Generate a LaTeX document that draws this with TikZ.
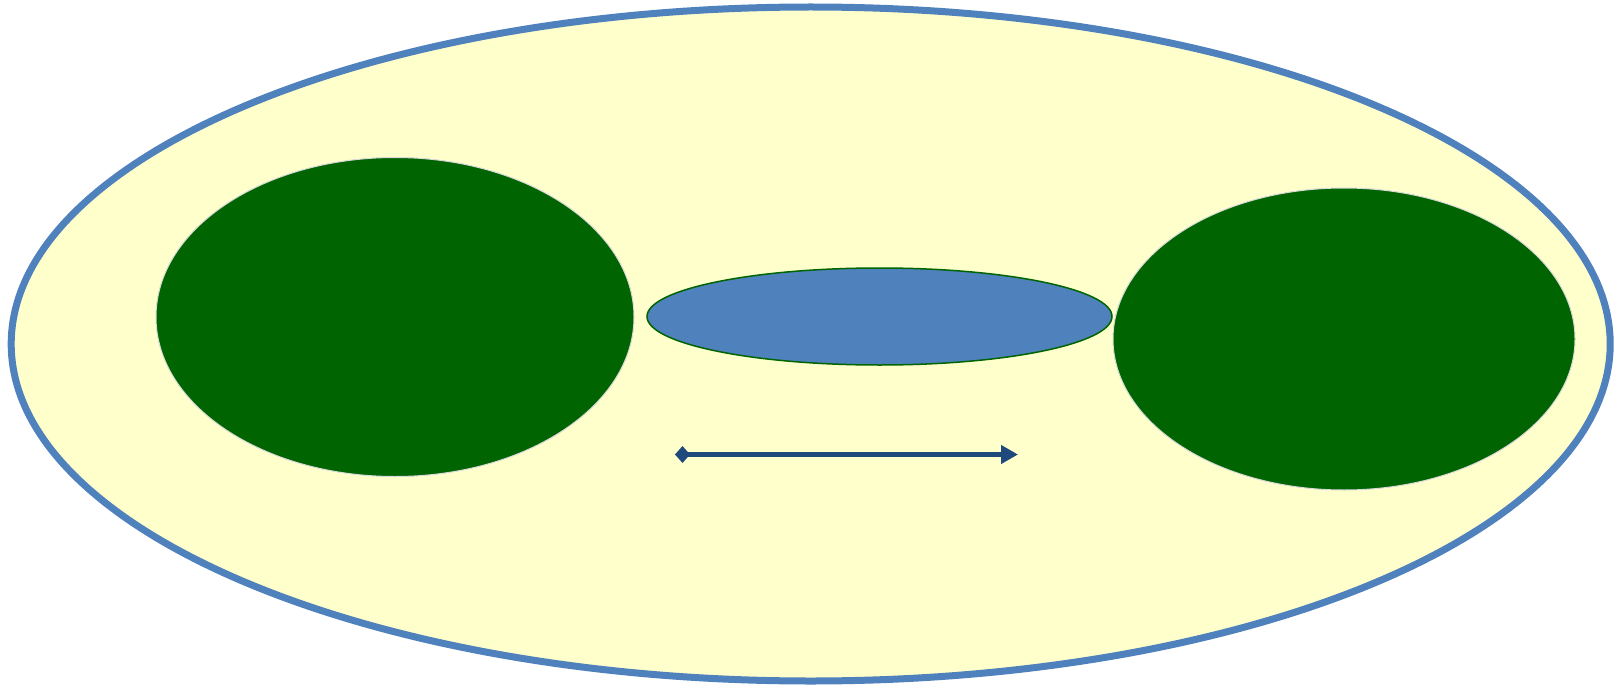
\documentclass[tikz,border=0pt]{standalone}
\usepackage{tikz}
\usetikzlibrary{arrows.meta, positioning, shapes.geometric}

\definecolor{cellfill}{HTML}{FFFFCC}
\definecolor{cellline}{HTML}{4F81BD}
\definecolor{blobgreen}{HTML}{006400}
\definecolor{arrowblue}{HTML}{1F497D}

\begin{document}
\begin{tikzpicture}[
    x=1pt, y=-1pt,
    region/.style={
        draw,
        ellipse,
        inner sep=0pt
    },
    cell/.style={
        region,
        draw=cellline,
        fill=cellfill,
        line width=7pt,
        minimum width=1599pt,
        minimum height=674pt
    },
    blob/.style={
        region,
        draw=white!85!black,
        fill=blobgreen,
        line width=1pt
    },
    core/.style={
        region,
        draw=blobgreen,
        fill=cellline,
        line width=1.5pt,
        minimum width=465pt,
        minimum height=97pt
    },
    arrow/.style={
        {Diamond[length=15pt,width=17pt]}-{Triangle[length=17pt,width=18pt]},
        draw=arrowblue,
        line width=5.7pt
    }
]
\useasboundingbox (0,0) rectangle (1624,687);

\node[cell] (outer) at (810.7,344) {};
\node[blob, minimum width=478pt, minimum height=319pt] (leftblob) at (395,317) {};
\node[blob, minimum width=462pt, minimum height=302pt] (rightblob) at (1344,339) {};
\node[core] (middle) at (879.5,316.5) {};

\coordinate (from) at (675,454.5);
\coordinate (to) at (1018,454.5);
\draw[arrow] (from) -- (to);
\end{tikzpicture}
\end{document}
